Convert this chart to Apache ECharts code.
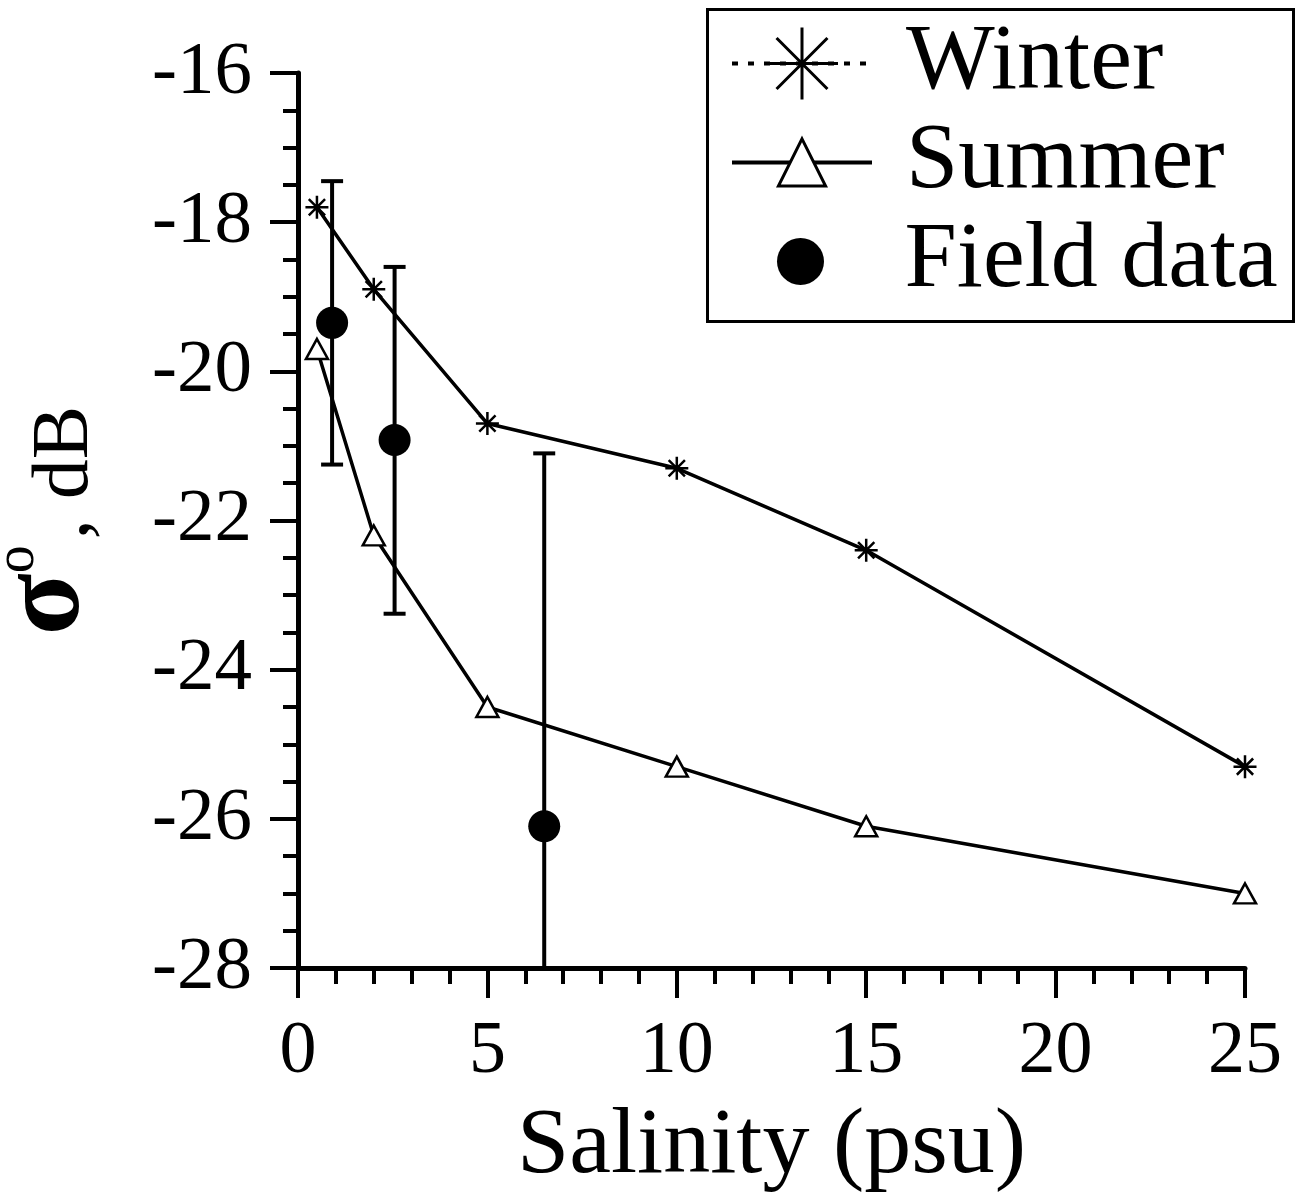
<!DOCTYPE html>
<html>
<head>
<meta charset="utf-8">
<script src="https://cdn.jsdelivr.net/npm/echarts@6/dist/echarts.min.js"></script>
<style>html,body{margin:0;padding:0;background:#fff;}#c{width:1298px;height:1200px;}</style>
</head>
<body>
<div id="c"></div>
<script>
// ---- data ----
var winterX = [0.5, 2, 5, 10, 15, 25];
var winterY = [-17.8, -18.9, -20.7, -21.3, -22.4, -25.3];
var summerX = [0.5, 2, 5, 10, 15, 25];
var summerY = [-19.7, -22.2, -24.5, -25.3, -26.1, -27.0];
var fieldX = [0.9, 2.55, 6.5];
var fieldY = [-19.35, -20.92, -26.1];
var fieldHigh = [-17.45, -18.6, -21.1];
var fieldLow = [-21.25, -23.25, -31.1];
var seriesNames = ['Winter', 'Summer', 'Field data'];

var FONT = '"Liberation Serif", "DejaVu Serif", serif';
var starPath = 'path://M0,-10 L0,10 M-10,0 L10,0 M-7.07,-7.07 L7.07,7.07 M-7.07,7.07 L7.07,-7.07';

function zip(a, b) { return a.map(function (v, i) { return [v, b[i]]; }); }

var legendText = {fontFamily: FONT, fontSize: 94, color: '#000', lineHeight: 99, padding: [0, 0, 0, 29]};
function legendBox(left, top, h, item) {
  return {
    left: left, top: top, orient: 'vertical', padding: 0, itemGap: 0,
    itemWidth: 140, itemHeight: h, textStyle: legendText, data: [item]
  };
}

var chart = echarts.init(document.getElementById('c'), null, {renderer: 'canvas'});
chart.setOption({
  animation: false,
  backgroundColor: '#fff',
  grid: {left: 298, right: 53, top: 73, bottom: 232, containLabel: false, outerBoundsMode: 'none'},
  graphic: [{
    type: 'rect', z: 10, silent: true,
    shape: {x: 707.5, y: 9.5, width: 586, height: 312},
    style: {fill: 'none', stroke: '#000', lineWidth: 3}
  }],
  legend: [
    legendBox(730, 14, 90, {name: seriesNames[0], lineStyle: {type: [6, 10], cap: 'butt', width: 4, color: '#000'}, itemStyle: {borderWidth: 3}}),
    legendBox(730, 113, 59, {name: seriesNames[1], lineStyle: {width: 4, color: '#000'}, itemStyle: {borderWidth: 3}}),
    legendBox(777, 212, 47, {name: seriesNames[2], icon: 'circle'})
  ],
  xAxis: {
    type: 'value', min: 0, max: 25, interval: 5,
    name: 'Salinity (psu)', nameLocation: 'middle', nameGap: 132,
    nameTextStyle: {fontFamily: FONT, fontSize: 94, color: '#000'},
    axisLine: {onZero: false, lineStyle: {color: '#000', width: 5}},
    axisTick: {show: true, inside: false, length: 30, lineStyle: {color: '#000', width: 4}},
    minorTick: {show: true, splitNumber: 5, length: 16, lineStyle: {color: '#000', width: 4}},
    axisLabel: {fontFamily: FONT, fontSize: 74, color: '#000', margin: 48},
    splitLine: {show: false}
  },
  yAxis: {
    type: 'value', min: -28, max: -16, interval: 2,
    name: '{s|σ}{sup|o}{n|, dB}', nameLocation: 'middle', nameGap: 192, nameRotate: 90,
    nameTextStyle: {
      fontFamily: FONT, color: '#000',
      rich: {
        s: {fontFamily: FONT, fontSize: 114, fontWeight: 'bold', color: '#000', verticalAlign: 'bottom'},
        sup: {fontFamily: FONT, fontSize: 56, color: '#000', verticalAlign: 'bottom', padding: [0, 6, 60, 0]},
        n: {fontFamily: FONT, fontSize: 80, color: '#000', verticalAlign: 'bottom'}
      }
    },
    axisLine: {show: true, onZero: false, lineStyle: {color: '#000', width: 5}},
    axisTick: {show: true, inside: false, length: 28, lineStyle: {color: '#000', width: 4}},
    minorTick: {show: true, splitNumber: 4, length: 15, lineStyle: {color: '#000', width: 4}},
    axisLabel: {fontFamily: FONT, fontSize: 75, color: '#000', margin: 46},
    splitLine: {show: false}
  },
  series: [
    {
      name: seriesNames[0], type: 'line', data: zip(winterX, winterY),
      symbol: starPath, symbolSize: 23,
      lineStyle: {color: '#000', width: 3.5},
      itemStyle: {color: '#000', borderColor: '#000', borderWidth: 2.5}
    },
    {
      name: seriesNames[1], type: 'line', data: zip(summerX, summerY),
      symbol: 'triangle', symbolSize: [22, 20],
      lineStyle: {color: '#000', width: 3.5},
      itemStyle: {color: '#fff', borderColor: '#000', borderWidth: 2.5}
    },
    {
      name: 'errors', type: 'custom', clip: true, z: 3,
      data: fieldX.map(function (x, i) { return [x, fieldLow[i], fieldHigh[i]]; }),
      renderItem: function (params, api) {
        var x = api.value(0);
        var lo = api.coord([x, api.value(1)]);
        var hi = api.coord([x, api.value(2)]);
        var hw = 11;
        var st = {stroke: '#000', lineWidth: 4};
        return {
          type: 'group',
          children: [
            {type: 'line', shape: {x1: hi[0], y1: hi[1], x2: lo[0], y2: lo[1]}, style: st},
            {type: 'line', shape: {x1: hi[0] - hw, y1: hi[1], x2: hi[0] + hw, y2: hi[1]}, style: st},
            {type: 'line', shape: {x1: lo[0] - hw, y1: lo[1], x2: lo[0] + hw, y2: lo[1]}, style: st}
          ]
        };
      }
    },
    {
      name: seriesNames[2], type: 'scatter', data: zip(fieldX, fieldY),
      symbol: 'circle', symbolSize: 32, z: 4,
      itemStyle: {color: '#000', opacity: 1}
    }
  ]
});
</script>
</body>
</html>
